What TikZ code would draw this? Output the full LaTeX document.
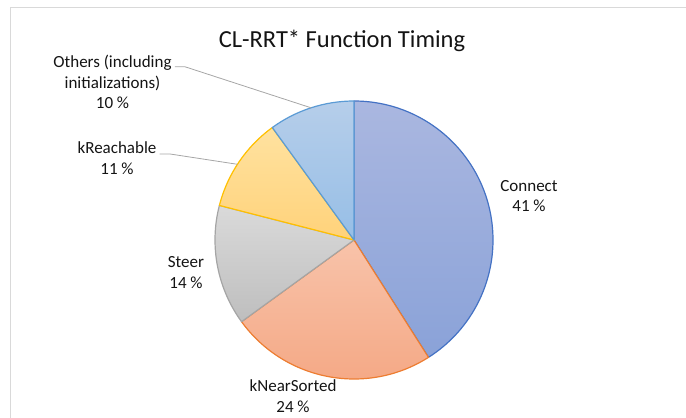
\documentclass[tikz,border=0pt]{standalone}
\usepackage{fontspec}
\setmainfont{Carlito}
\usepackage{xcolor}
\usepackage{tikz}
\usetikzlibrary{calc}
\definecolor{framegray}{RGB}{217,217,217}
\definecolor{leadergray}{RGB}{166,166,166}
\definecolor{labeltext}{RGB}{20,20,20}
\definecolor{connectline}{RGB}{68,114,196}
\definecolor{connecttop}{RGB}{170,183,224}
\definecolor{connectbot}{RGB}{138,162,216}
\definecolor{nearline}{RGB}{237,125,49}
\definecolor{neartop}{RGB}{248,195,170}
\definecolor{nearbot}{RGB}{244,166,130}
\definecolor{steerline}{RGB}{165,165,165}
\definecolor{steertop}{RGB}{218,218,218}
\definecolor{steerbot}{RGB}{190,190,190}
\definecolor{reachline}{RGB}{255,192,0}
\definecolor{reachtop}{RGB}{255,226,160}
\definecolor{reachbot}{RGB}{255,210,122}
\definecolor{otherline}{RGB}{91,155,213}
\definecolor{othertop}{RGB}{182,206,234}
\definecolor{otherbot}{RGB}{150,190,230}

\begin{document}
\begin{tikzpicture}[x=1pt, y=1pt,
  slice/.style={line width=1.2pt, line join=round},
  pielabel/.style={align=center, inner sep=0pt, text=labeltext,
    font=\fontsize{17}{20.8}\selectfont},
  leader/.style={draw=leadergray, line width=0.8pt},
]
  \useasboundingbox (0,0) rectangle (686,418);
  \draw[framegray, line width=1pt] (10.5,0) |- (686,410);

  \node[anchor=base, text=labeltext, font=\fontsize{24.5}{29}\selectfont] (title) at (342,370) {CL-RRT* Function Timing};

  \coordinate (pie) at (354,178);

  % slices, clockwise from the top
  \draw[slice, draw=connectline, top color=connecttop, bottom color=connectbot]
    (pie) -- ++(90:139) arc[start angle=90, end angle=-57.6, radius=139] -- cycle;
  \draw[slice, draw=nearline, top color=neartop, bottom color=nearbot]
    (pie) -- ++(-57.6:139) arc[start angle=-57.6, end angle=-144, radius=139] -- cycle;
  \draw[slice, draw=steerline, top color=steertop, bottom color=steerbot]
    (pie) -- ++(-144:139) arc[start angle=-144, end angle=-194.4, radius=139] -- cycle;
  \draw[slice, draw=reachline, top color=reachtop, bottom color=reachbot]
    (pie) -- ++(-194.4:139) arc[start angle=-194.4, end angle=-234, radius=139] -- cycle;
  \draw[slice, draw=otherline, top color=othertop, bottom color=otherbot]
    (pie) -- ++(-234:139) arc[start angle=-234, end angle=-270, radius=139] -- cycle;

  % labels
  \node[pielabel] (connect) at (529,222) {Connect\\41 \%};
  \node[pielabel] (nearsorted) at (293,21.5) {kNearSorted\\24 \%};
  \node[pielabel] (steer) at (186,145.5) {Steer\\14 \%};
  \node[pielabel] (reachable) at (117,259.5) {kReachable\\11 \%};
  \node[pielabel] (others) at (112.5,336) {Others (including\\initializations)\\10 \%};

  % leader lines
  \coordinate (othersedge) at ($(pie)+(108:139)$);
  \coordinate (reachedge) at ($(pie)+(147:139)$);
  \draw[leader] (others.north east) ++(3,-12) -- ++(10,0) -- (othersedge);
  \draw[leader] (reachable.north east) ++(3,-12) -- ++(10,0) -- (reachedge);
\end{tikzpicture}
\end{document}
